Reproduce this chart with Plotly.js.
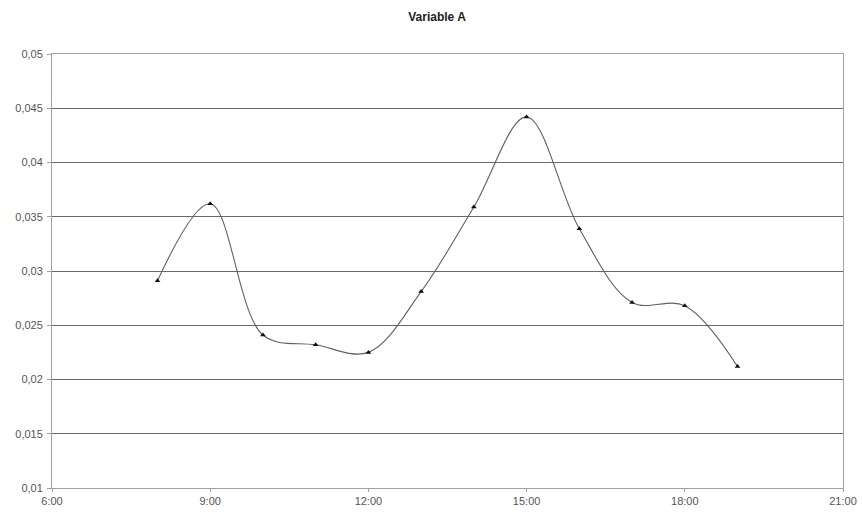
<!DOCTYPE html>
<html>
<head>
<meta charset="utf-8">
<script src="https://cdn.plot.ly/plotly-3.0.1.min.js"></script>
<style>html,body{margin:0;padding:0;background:#fff;}#chart{width:862px;height:517px;}</style>
</head>
<body>
<div id="chart"></div>
<script>
const hours = [8, 9, 10, 11, 12, 13, 14, 15, 16, 17, 18, 19];
const values = [0.0291, 0.0362, 0.0241, 0.0232, 0.0225, 0.0281, 0.0359, 0.0442, 0.0339, 0.0271, 0.0268, 0.0212];
const xTickVals = [6, 9, 12, 15, 18, 21];
const xTickText = ["6:00", "9:00", "12:00", "15:00", "18:00", "21:00"];
const yTickVals = [0.01, 0.015, 0.02, 0.025, 0.03, 0.035, 0.04, 0.045, 0.05];
const yTickText = ["0,01", "0,015", "0,02", "0,025", "0,03", "0,035", "0,04", "0,045", "0,05"];

const trace = {
  x: hours, y: values, type: 'scatter', mode: 'lines+markers',
  line: {shape: 'spline', smoothing: 1, color: '#606060', width: 1.1},
  marker: {symbol: 'triangle-up', size: 5, color: '#111100'},
  hoverinfo: 'skip'
};
const layout = {
  width: 862, height: 517,
  margin: {l: 52, r: 19, t: 54, b: 29},
  paper_bgcolor: '#fff', plot_bgcolor: '#fff',
  font: {family: 'Liberation Sans, Arial, sans-serif', size: 11, color: '#555'},
  title: {text: '<b>Variable A</b>', x: 0.507, xanchor: 'center', y: 0.967, yanchor: 'middle',
          font: {size: 12, color: '#222', family: 'Liberation Sans, Arial, sans-serif'}},
  showlegend: false,
  xaxis: {range: [6, 21], tickvals: xTickVals, ticktext: xTickText, showgrid: false,
          zeroline: false, showline: true, linecolor: '#a0a0a0', linewidth: 1, mirror: true,
          ticks: 'outside', ticklen: 3, tickcolor: '#a0a0a0', tickfont: {size: 11, color: '#555'}},
  yaxis: {range: [0.01, 0.05], tickvals: yTickVals, ticktext: yTickText, showgrid: true,
          gridcolor: '#6a6a6a', gridwidth: 1, zeroline: false, showline: true,
          linecolor: '#a0a0a0', linewidth: 1, mirror: true, ticklabelstandoff: 2,
          ticks: 'outside', ticklen: 4, tickcolor: '#a0a0a0', tickfont: {size: 11, color: '#555'}}
};
Plotly.newPlot('chart', [trace], layout, {displayModeBar: false, staticPlot: true});
</script>
</body>
</html>
